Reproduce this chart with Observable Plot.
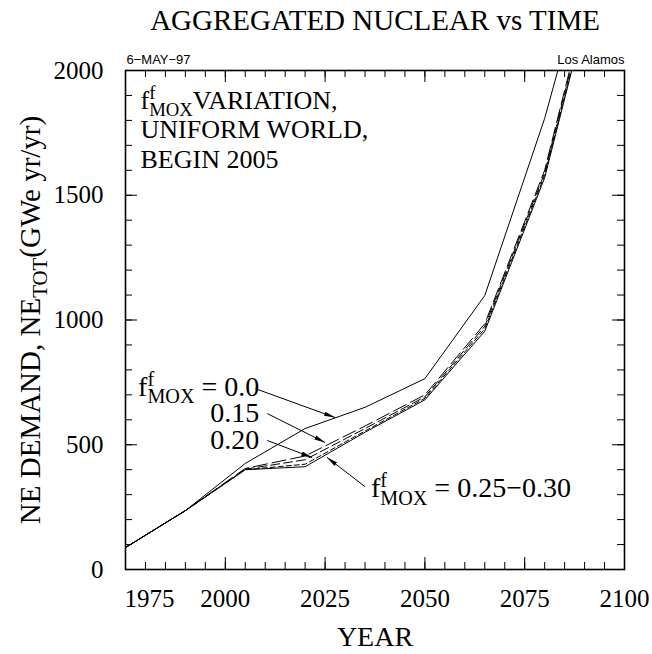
<!DOCTYPE html>
<html><head><meta charset="utf-8">
<script src="https://cdn.jsdelivr.net/npm/d3@7"></script>
<script src="https://cdn.jsdelivr.net/npm/@observablehq/plot@0.6"></script>
<style>html,body{margin:0;padding:0;background:#fff;overflow:hidden}</style>
</head><body><div id="chart"></div>
<script>
// ---- data ----
const years   = [1975, 1990, 2005, 2020, 2035, 2050, 2065, 2080, 2095];
const mox000  = [88, 236, 425, 565, 650, 765, 1098, 1808, 2680];
const mox015  = [88, 236, 405, 455, 575, 700, 985, 1600, 2560];
const mox020  = [88, 236, 402, 440, 565, 692, 975, 1590, 2545];
const mox025  = [88, 236, 400, 422, 555, 686, 965, 1580, 2530];
const mox030  = [88, 236, 400, 412, 550, 680, 955, 1570, 2520];
const seriesNames = ["0.0", "0.15", "0.20", "0.25", "0.30"];
const xTickLabels = [1975, 2000, 2025, 2050, 2075, 2100];
const yTickLabels = [0, 500, 1000, 1500, 2000];

const title = "AGGREGATED NUCLEAR vs TIME";
const xTitle = "YEAR";
const yTitle = "NE DEMAND, NE{_TOT}(GWe yr/yr)";
const infoLines = ["f{^f}{_MOX}VARIATION,", "UNIFORM WORLD,", "BEGIN 2005"];
const dateLabel = "6\u2212MAY\u221297";
const siteLabel = "Los Alamos";

const SERIF = "'Liberation Serif','Times New Roman',serif";
const SANS = "'Liberation Sans',Arial,sans-serif";

const seriesValues = [mox000, mox015, mox020, mox025, mox030];
const dashes = [null, "14,5", "9,4", "5,3", null];
const table = seriesNames.flatMap((s, k) => years.map((yr, i) => ({year: yr, ne: seriesValues[k][i], series: s})));

const W = 652, H = 654;
const mL = 125, mR = 28, mT = 70, mB = 85;
const fw = W - mL - mR, fh = H - mT - mB;
const minorX = d3.range(1975, 2101, 5), majorX = d3.range(1975, 2101, 25);
const minorY = d3.range(0, 2001, 100), majorY = d3.range(0, 2001, 500);
const tMin = 7, tMaj = 12;

const lineMarks = seriesNames.map((s, k) => Plot.line(table.filter(d => d.series === s), {
  x: "year", y: "ne", stroke: "black", strokeWidth: 1,
  strokeDasharray: dashes[k] || undefined, clip: true
}));

const arrow = (x1, y1, x2, y2) => Plot.link([0], {x1, y1, x2, y2, stroke: "black", strokeWidth: 1, markerEnd: "arrow"});
const infoY = [1880, 1762, 1642];
const mid = {lineAnchor: "middle"};

const plot = Plot.plot({
  width: W, height: H,
  marginLeft: mL, marginRight: mR, marginTop: mT, marginBottom: mB,
  x: {domain: [1975, 2100], axis: null},
  y: {domain: [0, 2000], axis: null},
  style: {background: "white", color: "black", fontFamily: SERIF},
  marks: [
    ...lineMarks,
    // ticks (inward) on four sides
    Plot.tickX(minorX, {x: d => d, insetTop: fh - tMin, stroke: "black"}),
    Plot.tickX(majorX, {x: d => d, insetTop: fh - tMaj, stroke: "black"}),
    Plot.tickX(minorX, {x: d => d, insetBottom: fh - tMin, stroke: "black"}),
    Plot.tickX(majorX, {x: d => d, insetBottom: fh - tMaj, stroke: "black"}),
    Plot.tickY(minorY, {y: d => d, insetRight: fw - tMin, stroke: "black"}),
    Plot.tickY(majorY, {y: d => d, insetRight: fw - tMaj, stroke: "black"}),
    Plot.tickY(minorY, {y: d => d, insetLeft: fw - tMin, stroke: "black"}),
    Plot.tickY(majorY, {y: d => d, insetLeft: fw - tMaj, stroke: "black"}),
    Plot.frame({stroke: "black", strokeWidth: 1.6}),
    // tick labels
    Plot.text(xTickLabels.filter(d => d !== 1975), {x: d => d, text: d => String(d), frameAnchor: "bottom", dy: 29, ...mid, fontSize: 25, fontFamily: SERIF}),
    Plot.text(xTickLabels.filter(d => d === 1975), {x: d => d, text: d => String(d), frameAnchor: "bottom", dy: 29, dx: 24, ...mid, fontSize: 25, fontFamily: SERIF}),
    Plot.text(yTickLabels, {y: d => d, text: d => String(d), frameAnchor: "left", dx: -22, textAnchor: "end", ...mid, fontSize: 25, fontFamily: SERIF}),
    // titles
    Plot.text([title], {frameAnchor: "top", dy: -50, ...mid, textAnchor: "middle", fontSize: 29, fontFamily: SERIF, letterSpacing: 1.7}),
    Plot.text([xTitle], {frameAnchor: "bottom", dy: 68, ...mid, textAnchor: "middle", fontSize: 28, fontFamily: SERIF, letterSpacing: 2.5}),
    Plot.text([yTitle], {frameAnchor: "left", dx: -95, rotate: -90, ...mid, textAnchor: "middle", fontSize: 29, fontFamily: SERIF, letterSpacing: 1.6}),
    Plot.text([dateLabel], {frameAnchor: "top-left", dy: -11, dx: 1, ...mid, textAnchor: "start", fontSize: 13, fontFamily: SANS}),
    Plot.text([siteLabel], {frameAnchor: "top-right", dy: -11, ...mid, textAnchor: "end", fontSize: 13, fontFamily: SANS}),
    // info text
    Plot.text(infoLines, {x: 1978.75, y: (d, i) => infoY[i], textAnchor: "start", ...mid, fontSize: 26, fontFamily: SERIF}),
    // annotations
    Plot.text(["f{^f}{_MOX} = 0.0"], {x: 2008.5, y: 731, textAnchor: "end", ...mid, fontSize: 28, fontFamily: SERIF}),
    Plot.text(["0.15"], {x: 2008.5, y: 627, textAnchor: "end", ...mid, fontSize: 28, fontFamily: SERIF}),
    Plot.text(["0.20"], {x: 2008.5, y: 519, textAnchor: "end", ...mid, fontSize: 28, fontFamily: SERIF}),
    Plot.text(["f{^f}{_MOX} = 0.25\u22120.30"], {x: 2036.5, y: 325, textAnchor: "start", ...mid, fontSize: 28, fontFamily: SERIF}),
    arrow(2007.5, 725, 2027.5, 609),
    arrow(2010.5, 625, 2025, 509),
    arrow(2010.5, 517, 2021.75, 449),
    arrow(2035, 332, 2025.5, 449)
  ]
});
document.getElementById("chart").appendChild(plot);

// filled arrowheads
plot.querySelectorAll("marker").forEach(m => {
  m.setAttribute("viewBox", "-11 -5 12 10");
  m.setAttribute("markerWidth", 12);
  m.setAttribute("markerHeight", 10);
  m.setAttribute("fill", "black");
  m.setAttribute("stroke", "none");
  const p = m.querySelector("path");
  if (p) p.setAttribute("d", "M-11,-2.2L0,0L-11,2.2Z");
});

// rich text: {^sup} and {_sub}, anchored manually
(function richText(svg) {
  const ns = "http://www.w3.org/2000/svg";
  svg.querySelectorAll("text").forEach(t => {
    const s = t.textContent;
    if (!/\{[\^_]/.test(s)) return;
    const cs = getComputedStyle(t);
    const fs = parseFloat(cs.fontSize) || 25;
    const anchor = cs.textAnchor || "start";
    t.setAttribute("text-anchor", "start");
    while (t.firstChild) t.removeChild(t.firstChild);
    const parts = s.split(/(\{[\^_][^}]*\})/).filter(Boolean);
    let level = 0, prevSup = null, first = null;
    for (const p of parts) {
      const m = /^\{([\^_])(.*)\}$/.exec(p);
      const ts = document.createElementNS(ns, "tspan");
      let target = 0, dx = 0;
      if (m) {
        ts.setAttribute("font-size", (0.72 * fs).toFixed(2));
        target = m[1] === "^" ? -0.36 * fs : 0.26 * fs;
        if (m[1] === "_" && prevSup) dx = -prevSup.getComputedTextLength();
        ts.textContent = m[2];
      } else ts.textContent = p;
      const dy = target - level;
      if (dy) ts.setAttribute("dy", dy.toFixed(2));
      if (dx) ts.setAttribute("dx", dx.toFixed(2));
      level = target;
      t.appendChild(ts);
      if (!first) first = ts;
      prevSup = (m && m[1] === "^") ? ts : null;
    }
    if (anchor === "middle" || anchor === "end") {
      const w = t.getBBox().width;
      const shift = anchor === "middle" ? -w / 2 : -w;
      const old = parseFloat(first.getAttribute("dx") || "0");
      first.setAttribute("dx", (old + shift).toFixed(2));
    }
  });
})(plot);
</script>
</body></html>
